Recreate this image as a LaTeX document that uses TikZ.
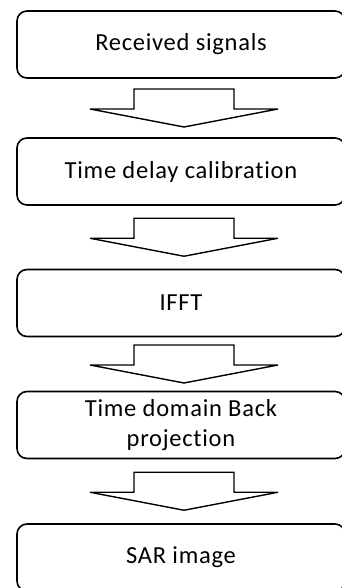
\documentclass[tikz,border=0pt]{standalone}
\usepackage{fontspec}
\setmainfont{Carlito}[Ligatures=NoCommon]
\usetikzlibrary{calc}
\newcommand{\flowarrow}[2]{%
  \path (#1.south) -- (#2.north) coordinate[pos=0.5] (#1-#2);
  \draw[flowhead] ([shift={(-47pt,19pt)}]#1-#2) -- ++(100pt,0pt) -- ++(0pt,-20pt) -- ++(44pt,0pt)
    -- ++(-94pt,-18pt) -- ++(-94pt,18pt) -- ++(44pt,0pt) -- cycle;
}

\begin{document}
\begin{tikzpicture}[x=1pt,y=-1pt,
    stepbox/.style={draw, line width=1.6pt, rounded corners=10pt, minimum width=328pt,
      minimum height=67pt, inner sep=0pt, align=center,
      font=\fontsize{24.5}{30}\selectfont\addfontfeatures{LetterSpace=3}},
    flowhead/.style={line width=1.4pt, line join=miter}]
			\clip (0,0) rectangle (342,588);
			\node[stepbox] (recv) at (181,44.5) {Received signals};
			\node[stepbox] (delay) at (181,171.5) {Time delay calibration};
			\node[stepbox] (ifft) at (181,303) {IFFT};
			\node[stepbox] (bp) at (181,425) {Time domain Back\\projection};
			\node[stepbox] (sar) at (181,557.5) {SAR image};
			\flowarrow{recv}{delay}
			\flowarrow{delay}{ifft}
			\flowarrow{ifft}{bp}
			\flowarrow{bp}{sar}
		\end{tikzpicture}
\end{document}
